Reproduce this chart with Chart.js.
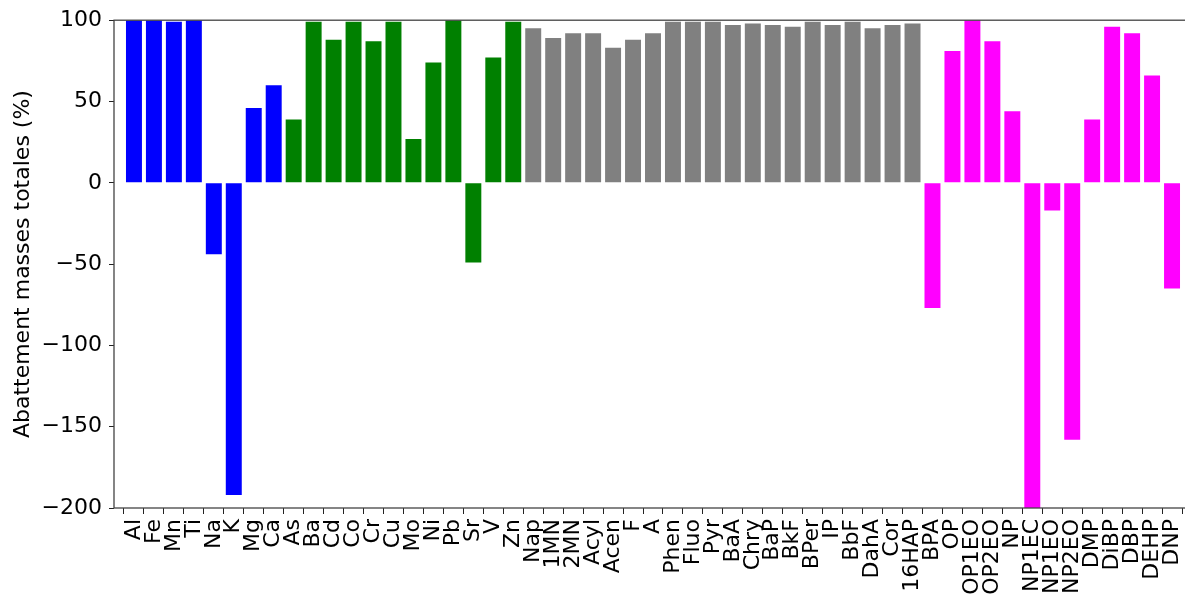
<!DOCTYPE html>
<html lang="fr">
<head>
  <meta charset="UTF-8" />
  <title>Abattement masses totales</title>
  <script src="https://cdn.jsdelivr.net/npm/chart.js"></script>
  <style>
    html, body {
      margin: 0;
      padding: 0;
      background: #fff;
      overflow: hidden;
    }
  </style>
</head>
<body>
  <canvas id="abattChart" width="1205" height="599"></canvas>

  <script>
    // groupes de composés, dans l'ordre de l'axe x
    const majeurs = ['Al', 'Fe', 'Mn', 'Ti', 'Na', 'K', 'Mg', 'Ca'];
    const majeursVal = [100, 100, 99, 100, -44, -192, 46, 60];

    const traces = ['As', 'Ba', 'Cd', 'Co', 'Cr', 'Cu', 'Mo', 'Ni', 'Pb', 'Sr', 'V', 'Zn'];
    const tracesVal = [39, 99, 88, 99, 87, 99, 27, 74, 100, -49, 77, 99];

    const hap = ['Nap', '1MN', '2MN', 'Acyl', 'Acen', 'F', 'A', 'Phen', 'Fluo', 'Pyr',
                 'BaA', 'Chry', 'BaP', 'BkF', 'BPer', 'IP', 'BbF', 'DahA', 'Cor', '16HAP'];
    const hapVal = [95, 89, 92, 92, 83, 88, 92, 99, 99, 99,
                    97, 98, 97, 96, 99, 97, 99, 95, 97, 98];

    const autres = ['BPA', 'OP', 'OP1EO', 'OP2EO', 'NP', 'NP1EC', 'NP1EO', 'NP2EO',
                    'DMP', 'DiBP', 'DBP', 'DEHP', 'DNP'];
    const autresVal = [-77, 81, 100, 87, 44, -200, -17, -158, 39, 96, 92, 66, -65];

    const yTicks = [-200, -150, -100, -50, 0, 50, 100];

    const groups = [
      { names: majeurs, values: majeursVal, color: '#0000ff' },
      { names: traces, values: tracesVal, color: '#008000' },
      { names: hap, values: hapVal, color: '#808080' },
      { names: autres, values: autresVal, color: '#ff00ff' }
    ];

    const labels = [];
    const points = [];
    const colors = [];
    groups.forEach(g => {
      g.names.forEach((n, i) => {
        points.push({ x: labels.length, y: g.values[i] });
        labels.push(n);
        colors.push(g.color);
      });
    });

    Chart.defaults.font.family = "'DejaVu Sans', sans-serif";
    Chart.defaults.font.size = 22;
    Chart.defaults.color = '#000';

    // cadre autour de la zone du graphe (comme les "spines" matplotlib)
    const frame = {
      id: 'frame',
      afterDatasetsDraw(chart) {
        const a = chart.chartArea;
        const c = chart.ctx;
        c.save();
        c.strokeStyle = '#444';
        c.lineWidth = 1.3;
        c.strokeRect(a.left, a.top, a.right - a.left, a.bottom - a.top);
        c.restore();
      }
    };

    const ctx = document.getElementById('abattChart').getContext('2d');
    new Chart(ctx, {
      type: 'bar',
      data: {
        labels: labels,
        datasets: [{
          data: points,
          backgroundColor: colors,
          borderWidth: 0,
          barPercentage: 1,
          categoryPercentage: 0.8
        }]
      },
      options: {
        responsive: false,
        animation: false,
        layout: { padding: { top: 17, right: 13, left: 0, bottom: 0 } },
        plugins: {
          legend: { display: false },
          tooltip: { enabled: false }
        },
        scales: {
          x: {
            type: 'linear',
            min: -1,
            max: 53,
            offset: false,
            afterBuildTicks: s => { s.ticks = labels.map((_, i) => ({ value: i })); },
            afterFit: s => { s.height = 91; },
            ticks: {
              autoSkip: false,
              maxRotation: 90,
              minRotation: 90,
              padding: 5,
              callback: v => labels[v]
            },
            grid: {
              drawOnChartArea: false,
              drawTicks: true,
              tickLength: 6,
              color: '#222'
            },
            border: { display: false }
          },
          y: {
            min: -200,
            max: 100,
            afterBuildTicks: s => { s.ticks = yTicks.map(v => ({ value: v })); },
            afterFit: s => { s.width = 114; },
            ticks: {
              padding: 7,
              callback: v => String(v).replace('-', '\u2212')
            },
            grid: {
              drawOnChartArea: false,
              drawTicks: true,
              tickLength: 5,
              color: '#222'
            },
            border: { display: false },
            title: {
              display: true,
              text: 'Abattement masses totales (%)',
              font: { size: 22 },
              padding: { top: 10, bottom: 0 }
            }
          }
        }
      },
      plugins: [frame]
    });
  </script>
</body>
</html>
